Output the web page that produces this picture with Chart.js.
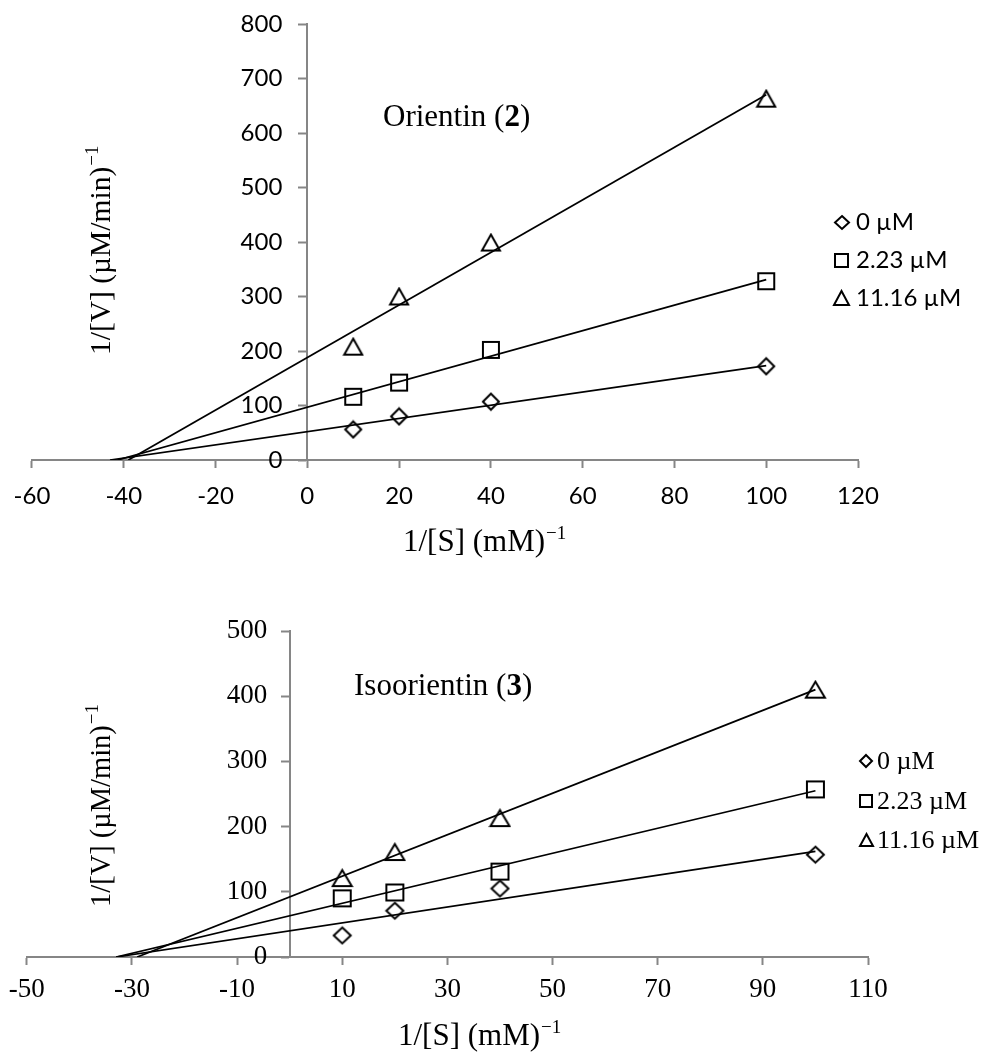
<!DOCTYPE html>
<html>
<head>
<meta charset="utf-8">
<title>Lineweaver-Burk plots</title>
<script src="https://cdn.jsdelivr.net/npm/chart.js@4.4.1/dist/chart.umd.min.js"></script>
<style>
  html, body { margin: 0; padding: 0; background: #fff; }
  canvas { display: block; }
</style>
</head>
<body>
<canvas id="oriChart" width="987" height="565"></canvas>
<canvas id="isoChart" width="987" height="490"></canvas>
<script>
// 1/[S] values shared by every series
const conc = [10, 20, 40, 100];
const seriesLabels = ['0 µM', '2.23 µM', '11.16 µM'];
const fitEndX = 100;

// Orientin (2)
const oriDiamond = [56, 80, 107, 172];
const oriSquare = [116, 142, 202, 328];
const oriTriangle = [208, 300, 399, 663];
const oriFitFrom = [-43, -41.4, -39];   // x where each trend line meets 0
const oriFitTo = [173, 331, 670];       // trend line value at x = 100
const oriXTicks = [-60, -40, -20, 0, 20, 40, 60, 80, 100, 120];
const oriYTicks = [0, 100, 200, 300, 400, 500, 600, 700, 800];

// Isoorientin (3)
const isoDiamond = [33, 71, 105, 157];
const isoSquare = [90, 99, 131, 257];
const isoTriangle = [121, 161, 213, 410];
const isoFitFrom = [-33, -33, -29];
const isoFitTo = [162, 255, 410];
const isoXTicks = [-50, -30, -10, 10, 30, 50, 70, 90, 110];
const isoYTicks = [0, 100, 200, 300, 400, 500];

const gray = '#868686';
const serif = '"Liberation Serif", "Times New Roman", serif';

// hollow excel-like markers, centred on their box
function makeMark(shape, w, h) {
    const lw = 2;
    const c = document.createElement('canvas');
    c.width = w + 2;
    c.height = h + 2;
    const g = c.getContext('2d');
    const l = 1 + lw / 2, t = 1 + lw / 2, r = w + 1 - lw / 2, b = h + 1 - lw / 2;
    const cx = (l + r) / 2, cy = (t + b) / 2;
    g.lineWidth = lw;
    g.strokeStyle = '#000';
    g.beginPath();
    if (shape === 'diamond') {
        g.moveTo(cx, t); g.lineTo(r, cy); g.lineTo(cx, b); g.lineTo(l, cy);
    } else if (shape === 'square') {
        g.rect(l, t, r - l, b - t);
    } else {
        g.moveTo(cx, t); g.lineTo(r, b); g.lineTo(l, b);
    }
    g.closePath();
    g.stroke();
    return c;
}

function drawSup(ctx, main, sup, x, y, size, supSize, rise) {
    ctx.font = `${size}px ${serif}`;
    ctx.fillText(main, x, y);
    const w = ctx.measureText(main).width;
    ctx.font = `${supSize}px ${serif}`;
    ctx.fillText(sup, x + w + 1, y - rise);
}

function buildChart(id, o) {
    const series = [o.diamond, o.square, o.triangle];
    const datasets = [];

    series.forEach((vals, i) => {
        datasets.push({
            label: seriesLabels[i] + ' trend',
            data: [{ x: o.fitFrom[i], y: 0 }, { x: fitEndX, y: o.fitTo[i] }],
            showLine: true,
            borderColor: '#000',
            borderWidth: 1.75,
            pointRadius: 0
        });
    });
    series.forEach((vals, i) => {
        datasets.push({
            label: seriesLabels[i],
            data: conc.map((x, j) => ({ x: x, y: vals[j] })),
            showLine: false,
            pointStyle: o.marks[i],
            pointRadius: 9,
            borderColor: '#000',
            backgroundColor: 'rgba(0,0,0,0)'
        });
    });

    const axisBase = (ticksArr, pad) => ({
        type: 'linear',
        min: ticksArr[0],
        max: ticksArr[ticksArr.length - 1],
        afterBuildTicks: ax => { ax.ticks = ticksArr.map(v => ({ value: v })); },
        grid: { drawOnChartArea: false, drawTicks: true, tickLength: 8, tickWidth: 2, tickColor: gray },
        border: { display: true, color: gray, width: 2 },
        ticks: {
            font: o.tickFont, color: '#000', padding: pad,
            maxRotation: 0, autoSkip: false,
            callback: v => String(v)
        }
    });

    const xScale = axisBase(o.xTicks, o.xPad);
    xScale.position = 'bottom';
    const yScale = axisBase(o.yTicks, 0);
    yScale.position = { x: 0 };
    // labels of an axis placed at x = 0 are drawn below, next to the axis line
    yScale.ticks.display = false;

    const t = o.text;
    const textPlugin = {
        id: 'figureText',
        afterDraw(chart) {
            const ctx = chart.ctx;
            ctx.save();
            ctx.fillStyle = '#000';

            // y tick labels, left of the axis line
            const ys = chart.scales.y;
            const axisX = chart.scales.x.getPixelForValue(0);
            ctx.font = `${o.tickFont.size}px ${o.tickFont.family}`;
            ctx.textAlign = 'right';
            ctx.textBaseline = 'middle';
            ys.ticks.forEach(tk => {
                ctx.fillText(String(tk.value), axisX - o.yGap, ys.getPixelForValue(tk.value));
            });

            ctx.textAlign = 'left';
            ctx.textBaseline = 'alphabetic';

            // compound name with bold number
            let x = t.name.x;
            ctx.font = `${t.size}px ${serif}`;
            const head = t.name.text + ' (';
            ctx.fillText(head, x, t.name.y);
            x += ctx.measureText(head).width;
            ctx.font = `bold ${t.size}px ${serif}`;
            ctx.fillText(t.name.num, x, t.name.y);
            x += ctx.measureText(t.name.num).width;
            ctx.font = `${t.size}px ${serif}`;
            ctx.fillText(')', x, t.name.y);

            // axis titles
            drawSup(ctx, '1/[S] (mM)', '\u22121', t.xTitle.x, t.xTitle.y, t.size, t.supSize, t.rise);
            ctx.save();
            ctx.translate(t.yTitle.x, t.yTitle.y);
            ctx.rotate(-Math.PI / 2);
            drawSup(ctx, '1/[V] (µM/min)', '\u22121', 0, 0, t.ySize, t.supSize, t.rise);
            ctx.restore();

            // legend
            const lg = t.legend;
            ctx.font = lg.font;
            ctx.textBaseline = 'middle';
            lg.rows.forEach((y, i) => {
                const m = o.legendMarks[i];
                ctx.drawImage(m, Math.round(lg.x - m.width / 2), Math.round(y - m.height / 2));
                ctx.fillText(seriesLabels[i], lg.textX, y + lg.dy);
            });
            ctx.restore();
        }
    };

    return new Chart(document.getElementById(id), {
        type: 'scatter',
        data: { datasets: datasets },
        options: {
            responsive: false,
            animation: false,
            devicePixelRatio: 1,
            layout: { padding: o.padding },
            plugins: {
                legend: { display: false },
                tooltip: { enabled: false }
            },
            scales: { x: xScale, y: yScale }
        },
        plugins: [textPlugin]
    });
}

buildChart('oriChart', {
    diamond: oriDiamond, square: oriSquare, triangle: oriTriangle,
    fitFrom: oriFitFrom, fitTo: oriFitTo,
    xTicks: oriXTicks, yTicks: oriYTicks,
    tickFont: { family: 'Lato', size: 24, lineHeight: 1.2 },
    xPad: 13.6, yGap: 25,
    padding: { left: 30, right: 129, top: 24, bottom: 41 },
    marks: [makeMark('diamond', 18, 18), makeMark('square', 18, 18), makeMark('triangle', 20, 18)],
    legendMarks: [makeMark('diamond', 16, 15), makeMark('square', 15, 15), makeMark('triangle', 17, 16)],
    text: {
        size: 31, ySize: 29.5, supSize: 19, rise: 12,
        name: { text: 'Orientin', num: '2', x: 383, y: 126 },
        xTitle: { x: 403, y: 551 },
        yTitle: { x: 110, y: 355 },
        legend: { x: 841.5, textX: 856, rows: [222, 260, 298], font: '24px Lato', dy: 0 }
    }
});

buildChart('isoChart', {
    diamond: isoDiamond, square: isoSquare, triangle: isoTriangle,
    fitFrom: isoFitFrom, fitTo: isoFitTo,
    xTicks: isoXTicks, yTicks: isoYTicks,
    tickFont: { family: 'Liberation Serif', size: 27, lineHeight: 1.2 },
    xPad: 8.8, yGap: 22.5,
    padding: { left: 21, right: 119, top: 66, bottom: 40 },
    marks: [makeMark('diamond', 19, 18), makeMark('square', 19, 18), makeMark('triangle', 21, 18)],
    legendMarks: [makeMark('diamond', 14, 14), makeMark('square', 14, 14), makeMark('triangle', 15, 14)],
    text: {
        size: 31, ySize: 28.5, supSize: 19, rise: 12,
        name: { text: 'Isoorientin', num: '3', x: 354, y: 130 },
        xTitle: { x: 398, y: 480 },
        yTitle: { x: 110, y: 342 },
        legend: { x: 866, textX: 877, rows: [196, 236, 275], font: `26px ${serif}`, dy: 1 }
    }
});
</script>
</body>
</html>
